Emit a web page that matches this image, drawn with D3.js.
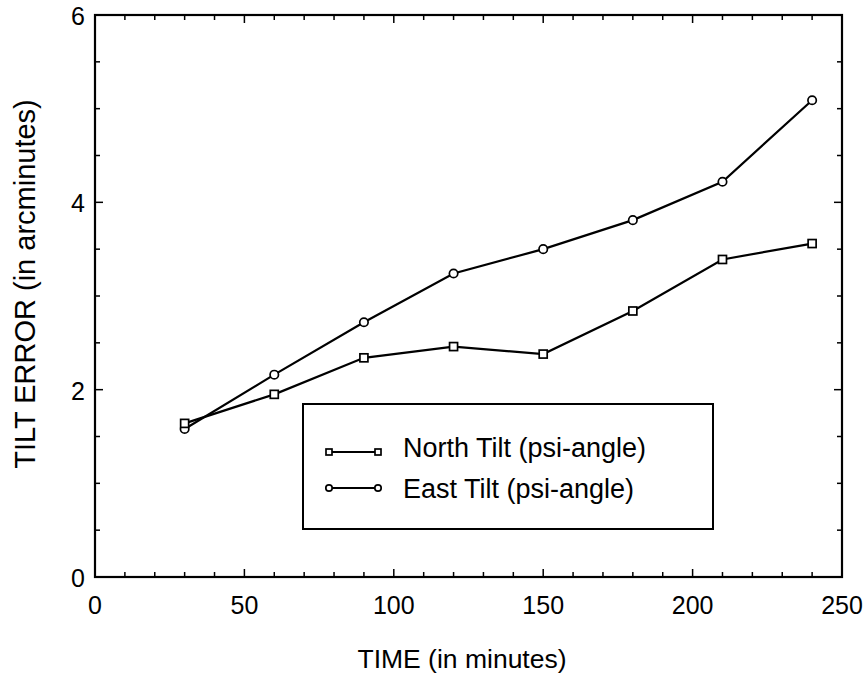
<!DOCTYPE html>
<html>
<head>
<meta charset="utf-8">
<script src="https://cdn.jsdelivr.net/npm/d3@7"></script>
<style>
  body { margin: 0; background: #fff; }
  svg { display: block; font-family: "Liberation Sans", Arial, Helvetica, sans-serif; }
</style>
</head>
<body>
<div id="chart"></div>
<script>
// Data
const times = [30, 60, 90, 120, 150, 180, 210, 240];
const northTilt = [1.64, 1.95, 2.34, 2.46, 2.38, 2.84, 3.39, 3.56];
const eastTilt = [1.58, 2.16, 2.72, 3.24, 3.50, 3.81, 4.22, 5.09];
const xTickLabels = [0, 50, 100, 150, 200, 250];
const yTickLabels = [0, 2, 4, 6];
const seriesNames = ["North Tilt (psi-angle)", "East Tilt (psi-angle)"];

const width = 866, height = 677;
const margin = { left: 95, right: 24, top: 15, bottom: 100 };

const svg = d3.select("#chart").append("svg").attr("width", width).attr("height", height);

const x = d3.scaleLinear().domain([0, 250]).range([margin.left, width - margin.right]);
const y = d3.scaleLinear().domain([0, 6]).range([height - margin.bottom, margin.top]);

const x0 = x(0), x1 = x(250), y0 = y(0), y1 = y(6);

// Inward ticks on all four sides
const xMinor = d3.range(10, 250, 10);
const yMinor = d3.range(0.5, 6, 0.5);
const ticks = svg.append("g").attr("stroke", "#000").attr("stroke-width", 1.5);

xMinor.forEach((t) => {
  const len = t % 50 === 0 ? 8 : 5;
  ticks.append("line").attr("x1", x(t)).attr("x2", x(t)).attr("y1", y0).attr("y2", y0 - len);
  ticks.append("line").attr("x1", x(t)).attr("x2", x(t)).attr("y1", y1).attr("y2", y1 + len);
});
yMinor.forEach((t) => {
  const len = t % 2 === 0 ? 8 : 5;
  ticks.append("line").attr("x1", x0).attr("x2", x0 + len).attr("y1", y(t)).attr("y2", y(t));
  ticks.append("line").attr("x1", x1).attr("x2", x1 - len).attr("y1", y(t)).attr("y2", y(t));
});

// Frame
svg.append("rect")
  .attr("x", x0).attr("y", y1)
  .attr("width", x1 - x0).attr("height", y0 - y1)
  .attr("fill", "none").attr("stroke", "#000").attr("stroke-width", 2.2);

// Tick labels
svg.append("g").selectAll("text").data(xTickLabels).enter().append("text")
  .attr("x", (d) => x(d)).attr("y", y0 + 37)
  .attr("text-anchor", "middle").attr("font-size", "25px")
  .text((d) => d);

svg.append("g").selectAll("text").data(yTickLabels).enter().append("text")
  .attr("x", x0 - 10).attr("y", (d) => y(d) + 10)
  .attr("text-anchor", "end").attr("font-size", "25px")
  .text((d) => d);

// Axis titles
svg.append("text")
  .attr("x", 462).attr("y", 668)
  .attr("text-anchor", "middle").attr("font-size", "26.5px")
  .text("TIME (in minutes)");

svg.append("text")
  .attr("transform", "translate(35, 284) rotate(-90)")
  .attr("text-anchor", "middle").attr("font-size", "29px")
  .text("TILT ERROR (in arcminutes)");

// Series
const line = d3.line().x((d) => x(d[0])).y((d) => y(d[1]));
const northPts = times.map((t, i) => [t, northTilt[i]]);
const eastPts = times.map((t, i) => [t, eastTilt[i]]);

[northPts, eastPts].forEach((pts) => {
  svg.append("path").datum(pts).attr("d", line)
    .attr("fill", "none").attr("stroke", "#000").attr("stroke-width", 2.2);
});

function drawSquare(g, cx, cy, s) {
  g.append("rect").attr("x", cx - s).attr("y", cy - s).attr("width", 2 * s).attr("height", 2 * s)
    .attr("fill", "#fff").attr("stroke", "#000").attr("stroke-width", 1.7);
}
function drawCircle(g, cx, cy, s) {
  g.append("circle").attr("cx", cx).attr("cy", cy).attr("r", s + 0.2)
    .attr("fill", "#fff").attr("stroke", "#000").attr("stroke-width", 1.7);
}

const marks = svg.append("g");
eastPts.forEach((d) => drawCircle(marks, x(d[0]), y(d[1]), 4));
northPts.forEach((d) => drawSquare(marks, x(d[0]), y(d[1]), 4));

// Legend
const legend = svg.append("g");
legend.append("rect")
  .attr("x", 303).attr("y", 404).attr("width", 410).attr("height", 125)
  .attr("fill", "#fff").attr("stroke", "#000").attr("stroke-width", 2);

const legendRows = [
  { name: seriesNames[0], y: 452, marker: drawSquare, base: 457 },
  { name: seriesNames[1], y: 488, marker: drawCircle, base: 498 }
];
legendRows.forEach((r) => {
  legend.append("line").attr("x1", 329).attr("x2", 378).attr("y1", r.y).attr("y2", r.y)
    .attr("stroke", "#000").attr("stroke-width", 2);
  r.marker(legend, 329, r.y, 3);
  r.marker(legend, 378, r.y, 3);
  legend.append("text").attr("x", 403).attr("y", r.base)
    .attr("font-size", "27px").text(r.name);
});
</script>
</body>
</html>
